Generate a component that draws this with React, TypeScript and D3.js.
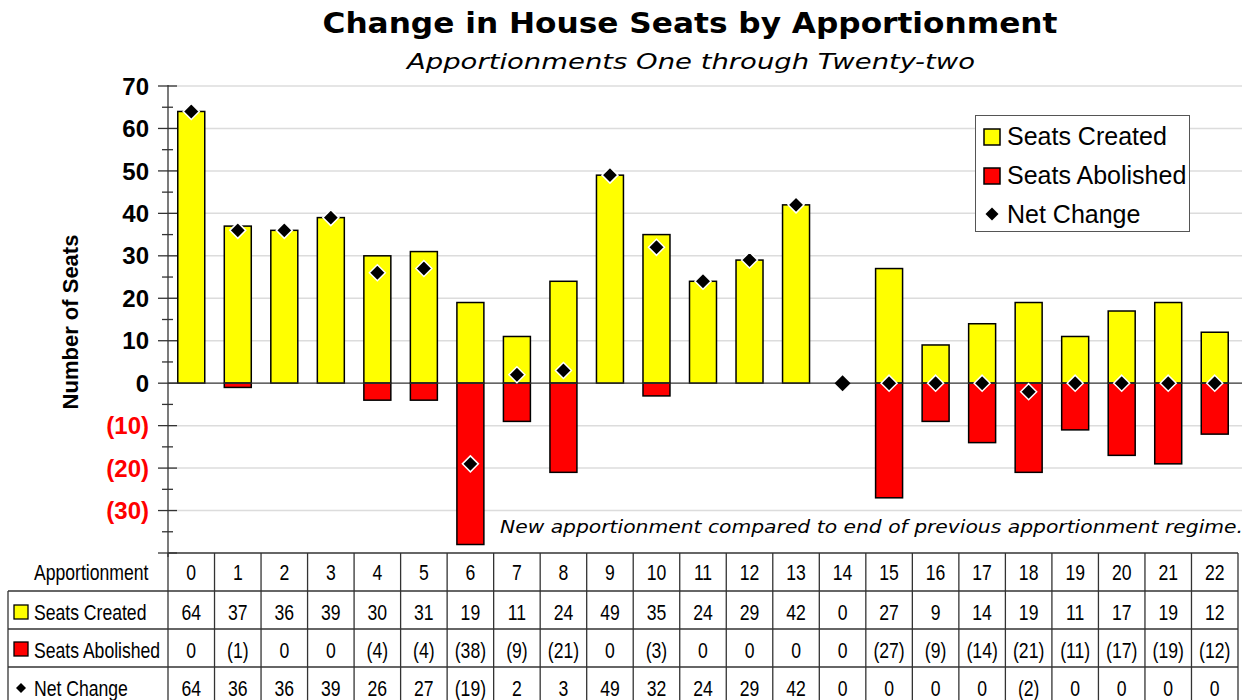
import React from 'react';
import { scaleLinear, scaleBand, range } from 'd3';

const apportionments = range(0, 23).map(String);
const seatsCreated = [64, 37, 36, 39, 30, 31, 19, 11, 24, 49, 35, 24, 29, 42, 0, 27, 9, 14, 19, 11, 17, 19, 12];
const seatsAbolished = [0, -1, 0, 0, -4, -4, -38, -9, -21, 0, -3, 0, 0, 0, 0, -27, -9, -14, -21, -11, -17, -19, -12];
const netChange = [64, 36, 36, 39, 26, 27, -19, 2, 3, 49, 32, 24, 29, 42, 0, 0, 0, 0, -2, 0, 0, 0, 0];
const majorTicks = [70, 60, 50, 40, 30, 20, 10, 0, -10, -20, -30, -40];
const minorTicks = range(-35, 70, 10);

const W = 1251;
const H = 700;
const left = 168;
const right = 1238;
const top = 86;
const bottom = 553;

const fmt = (v: number) => (v < 0 ? `(${-v})` : `${v}`);
const diamond = (x: number, y: number, r: number) => `M${x},${y - r}L${x + r},${y}L${x},${y + r}L${x - r},${y}Z`;

// Arial Narrow stand-in: Liberation Sans squeezed horizontally
const Narrow = ({ x, y, anchor = 'start', children }: { x: number; y: number; anchor?: string; children: React.ReactNode }) => (
  <text transform={`translate(${x},${y}) scale(0.8,1)`} textAnchor={anchor}>{children}</text>
);

export default function App() {
  const x = scaleBand<string>().domain(apportionments).range([left, right]).paddingInner(0.42).paddingOuter(0.21);
  const col = scaleBand<string>().domain(apportionments).range([left, right]);
  const y = scaleLinear().domain([-40, 70]).range([bottom, top]);

  const rowLines = [553, 591, 629, 667, 705];
  const rowBase = [580, 620, 658, 696];
  const sans = '"Liberation Sans", Arial, sans-serif';

  return (
    <svg width={W} height={H} style={{ position: 'absolute', left: 0, top: 0, background: '#fff' }}>
      {/* titles */}
      <text x={690} y={33} textAnchor="middle" fontFamily="DejaVu Sans, sans-serif" fontWeight="bold" fontSize={28}
        textLength={735} lengthAdjust="spacingAndGlyphs">Change in House Seats by Apportionment</text>
      <text x={691} y={69} textAnchor="middle" fontFamily="DejaVu Sans, sans-serif" fontStyle="italic" fontSize={22}
        textLength={568} lengthAdjust="spacingAndGlyphs">Apportionments One through Twenty-two</text>

      {/* grid */}
      {majorTicks.filter((t) => t !== 0 && t !== -40).map((t) => (
        <line key={'g' + t} x1={left} x2={right + 4} y1={y(t)} y2={y(t)} stroke="#dcdcdc" strokeWidth={1.5} />
      ))}

      {/* note */}
      <text x={1243} y={533} textAnchor="end" fontFamily="DejaVu Sans, sans-serif" fontStyle="italic" fontSize={18}
        textLength={743} lengthAdjust="spacingAndGlyphs">New apportionment compared to end of previous apportionment regime.</text>

      {/* bars */}
      {apportionments.map((a, i) => (
        <g key={'b' + a}>
          {seatsCreated[i] > 0 && (
            <rect x={x(a)} y={y(seatsCreated[i])} width={x.bandwidth()} height={y(0) - y(seatsCreated[i])}
              fill="#ffff00" stroke="#000" strokeWidth={1.5} />
          )}
          {seatsAbolished[i] < 0 && (
            <rect x={x(a)} y={y(0)} width={x.bandwidth()} height={y(seatsAbolished[i]) - y(0)}
              fill="#ff0000" stroke="#000" strokeWidth={1.5} />
          )}
        </g>
      ))}

      {/* zero line */}
      <line x1={left} x2={right + 4} y1={y(0)} y2={y(0)} stroke="#333" strokeWidth={1.2} />

      {/* net change markers */}
      {apportionments.map((a, i) => (
        <path key={'n' + a} d={diamond((x(a) as number) + x.bandwidth() / 2, y(netChange[i]), 8)}
          fill="#000" stroke={i === 14 ? 'none' : '#fff'} strokeWidth={1.5} />
      ))}

      {/* y axis */}
      <line x1={left} x2={left} y1={top - 1} y2={bottom + 4} stroke="#333" strokeWidth={1.3} />
      {majorTicks.map((t) => (
        <line key={'mt' + t} x1={158} x2={177} y1={y(t)} y2={y(t)} stroke="#333" strokeWidth={1.3} />
      ))}
      {minorTicks.map((t) => (
        <line key={'nt' + t} x1={162} x2={173} y1={y(t)} y2={y(t)} stroke="#333" strokeWidth={1.3} />
      ))}
      {majorTicks.filter((t) => t !== -40).map((t) => (
        <text key={'tl' + t} x={149} y={y(t)} dy="0.36em" textAnchor="end" fontFamily={sans}
          fontWeight="bold" fontSize={24} fill={t < 0 ? '#ff0000' : '#000'}>{t < 0 ? `(${-t})` : t}</text>
      ))}
      <text transform={`translate(78,${322}) rotate(-90)`} textAnchor="middle" fontFamily={sans}
        fontWeight="bold" fontSize={22}>Number of Seats</text>

      {/* legend */}
      <rect x={975.5} y={115.5} width={214} height={116} fill="#fff" stroke="#555" strokeWidth={1} />
      <rect x={984} y={129} width={16} height={16} fill="#ffff00" stroke="#000" strokeWidth={1.5} />
      <text x={1007} y={145} fontFamily={sans} fontSize={25}>Seats Created</text>
      <rect x={984} y={168} width={16} height={16} fill="#ff0000" stroke="#000" strokeWidth={1.5} />
      <text x={1007} y={184} fontFamily={sans} fontSize={25}>Seats Abolished</text>
      <path d={diamond(992, 214, 6.5)} fill="#000" />
      <text x={1007} y={223} fontFamily={sans} fontSize={25}>Net Change</text>

      {/* data table */}
      <g fontFamily={sans} fontSize={22}>
        <line x1={left} x2={right} y1={rowLines[0]} y2={rowLines[0]} stroke="#333" strokeWidth={1.3} />
        {rowLines.slice(1).map((ly) => (
          <line key={'rl' + ly} x1={8} x2={right} y1={ly} y2={ly} stroke="#333" strokeWidth={1.3} />
        ))}
        <line x1={8} x2={8} y1={rowLines[1]} y2={H} stroke="#333" strokeWidth={1.3} />
        {apportionments.map((a) => (
          <line key={'cl' + a} x1={(col(a) as number) + col.bandwidth()} x2={(col(a) as number) + col.bandwidth()}
            y1={rowLines[0]} y2={H} stroke="#333" strokeWidth={1.3} />
        ))}
        <line x1={left} x2={left} y1={rowLines[0]} y2={H} stroke="#333" strokeWidth={1.3} />

        <Narrow x={34} y={rowBase[0]}>Apportionment</Narrow>
        <rect x={14} y={605} width={14} height={14} fill="#ffff00" stroke="#000" strokeWidth={1.3} />
        <Narrow x={34} y={rowBase[1]}>Seats Created</Narrow>
        <rect x={14} y={642} width={14} height={14} fill="#ff0000" stroke="#000" strokeWidth={1.3} />
        <Narrow x={34} y={rowBase[2]}>Seats Abolished</Narrow>
        <path d={diamond(21, 688, 5)} fill="#000" />
        <Narrow x={34} y={rowBase[3]}>Net Change</Narrow>

        {apportionments.map((a, i) => {
          const cx = (col(a) as number) + col.bandwidth() / 2;
          return (
            <g key={'t' + a}>
              <Narrow x={cx} y={rowBase[0]} anchor="middle">{a}</Narrow>
              <Narrow x={cx} y={rowBase[1]} anchor="middle">{fmt(seatsCreated[i])}</Narrow>
              <Narrow x={cx} y={rowBase[2]} anchor="middle">{fmt(seatsAbolished[i])}</Narrow>
              <Narrow x={cx} y={rowBase[3]} anchor="middle">{fmt(netChange[i])}</Narrow>
            </g>
          );
        })}
      </g>
    </svg>
  );
}
